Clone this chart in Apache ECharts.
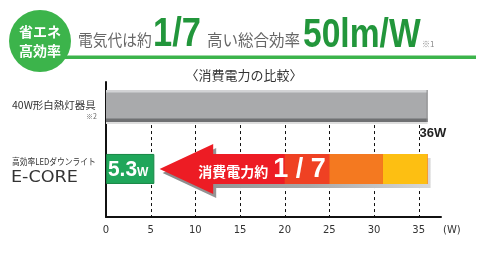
<!DOCTYPE html>
<html><head><meta charset="utf-8">
<script src="https://cdn.jsdelivr.net/npm/echarts/dist/echarts.min.js"></script>
<style>html,body{margin:0;padding:0;background:#fff}#c{width:493px;height:270px}</style>
</head><body><div id="c"></div>
<script>
// ---------- data ----------
const categories = ['40W形白熱灯器具', '高効率LEDダウンライト'];
const categoryNotes = ['※2', ''];
const brandName = 'E-CORE';
const watts = [36, 5.3];
const tickStep = 5;
const gridTicks = [5, 10, 15, 20, 25, 30, 35];
const bandEnds = [20, 25, 31, 36];          // red arrow end, red-orange, orange, yellow
const arrowTip = 6, arrowHeadBack = 12;
const arrowCaption = '消費電力約';
const ratioText = '1 / 7';
const titleParts = ['電気代は約', '1/7', '高い総合効率', '50lm/W', '※1'];
const badgeLines = ['省エネ', '高効率'];
const subtitle = '〈消費電力の比較〉';

// ---------- layout ----------
const rowLevels = [82.2, 35.6];
const JP = '"Noto Sans CJK JP", sans-serif';
const LAT = '"Liberation Sans", Arial, sans-serif';
const bandColors = ['#ED1C24', '#EF4123', '#F47920', '#FDBF12'];

const chart = echarts.init(document.getElementById('c'), null, {renderer: 'canvas'});

function renderGrid(params, api) {
  const x = Math.round(api.coord([api.value(0), 0])[0]) + 0.5;
  const yTop = api.coord([0, rowLevels[0]])[1] + 19;
  const yBot = api.coord([0, 0])[1];
  return {type: 'line', shape: {x1: x, y1: yTop, x2: x, y2: yBot},
    style: {stroke: '#111', lineWidth: 1, lineDash: [3, 3]}};
}

function renderBars(params, api) {
  const idx = params.dataIndex;
  const w = api.value(0);
  const X = v => api.coord([v, 0])[0];
  const cy = api.coord([0, rowLevels[idx]])[1];
  const x0 = X(0), x1 = X(w);
  const children = [];
  if (idx === 0) {
    const top = cy - 16, h = 32, bot = cy + 16;
    children.push(
      {type: 'rect', shape: {x: x0, y: bot, width: x1 - x0, height: 2}, style: {fill: '#dedede'}},
      {type: 'rect', shape: {x: x0, y: top, width: x1 - x0, height: h}, style: {fill: '#a9aaac'}},
      {type: 'rect', shape: {x: x0, y: top, width: x1 - x0, height: 2.5}, style: {fill: '#d2d3d5'}},
      {type: 'rect', shape: {x: x0, y: bot - 3.5, width: x1 - x0, height: 3.5}, style: {fill: '#6f7072'}},
      {type: 'rect', shape: {x: x1 - 1, y: top, width: 1, height: h}, style: {fill: '#8a8b8d'}},
      {type: 'text', style: {text: w + 'W', x: x1 - 8, y: bot + 11, fill: '#222',
        font: 'bold 13px ' + LAT, align: 'left', verticalAlign: 'middle'}}
    );
    children.push(
      {type: 'text', x: 12, y: cy - 1, scaleX: 1.05, style: {text: categories[0], x: 0, y: 0, fill: '#333',
        font: '10px ' + JP, align: 'left', verticalAlign: 'middle'}},
      {type: 'text', style: {text: categoryNotes[0], x: 97, y: cy + 10, fill: '#666',
        font: '7px ' + JP, align: 'right', verticalAlign: 'middle'}}
    );
  } else {
    const sh = 15, hh = 25;
    const xt = X(arrowTip), xh = X(arrowHeadBack), xe = X(bandEnds[bandEnds.length - 1]);
    const pts = (dx, dy) => [[xt, cy], [xh, cy - hh], [xh, cy - sh], [xe, cy - sh], [xe, cy + sh],
      [xh, cy + sh], [xh, cy + hh]].map(p => [p[0] + dx, p[1] + dy]);
    children.push(
      {type: 'polygon', shape: {points: pts(3, 4)}, style: {fill: new echarts.graphic.LinearGradient(0, 0, 1, 0,
        [{offset: 0, color: '#8a8a8a'}, {offset: 0.55, color: '#a8a8a8'}, {offset: 1, color: '#d8d8d8'}])}},
      {type: 'polygon', shape: {points: pts(0, 0)}, style: {fill: bandColors[0]}}
    );
    for (let i = 1; i < bandEnds.length; i++) {
      const a = X(bandEnds[i - 1]), b = X(bandEnds[i]);
      children.push({type: 'rect', shape: {x: a, y: cy - sh, width: b - a, height: sh * 2},
        style: {fill: bandColors[i]}});
    }
    children.push(
      {type: 'rect', shape: {x: x0 + 0.5, y: cy - sh + 0.5, width: x1 - x0, height: sh * 2 - 1},
        style: {fill: '#1FA65A', stroke: '#178645', lineWidth: 1}},
      {type: 'text', x: x0 + 2, y: cy + 1, scaleX: 0.95, style: {text: String(w), x: 0, y: 0, fill: '#fff',
        font: 'bold 22px ' + LAT, align: 'left', verticalAlign: 'middle'}},
      {type: 'text', style: {text: 'W', x: x0 + 31, y: cy + 3.5, fill: '#fff',
        font: 'bold 12px ' + LAT, align: 'left', verticalAlign: 'middle'}},
      {type: 'text', style: {text: arrowCaption, x: xh - 15, y: cy + 2.5, fill: '#fff',
        font: 'bold 14px ' + JP, align: 'left', verticalAlign: 'middle'}},
      {type: 'text', style: {text: ratioText, x: xh + 60, y: cy + 1, fill: '#fff',
        font: 'bold 27px ' + LAT, align: 'left', verticalAlign: 'middle'}}
    );
    children.push(
      {type: 'text', x: 12, y: cy - 7, scaleX: 0.86, style: {text: categories[1], x: 0, y: 0, fill: '#333',
        font: '9px ' + JP, align: 'left', verticalAlign: 'middle'}},
      {type: 'text', x: 11, y: cy + 9, scaleX: 1.1, style: {text: brandName, x: 0, y: 0, fill: '#333',
        fontSize: 16, fontFamily: '"DejaVu Sans", sans-serif', fontWeight: 'normal', align: 'left', verticalAlign: 'middle'}}
    );
  }
  return {type: 'group', children};
}

const green = '#3CB44B', darkGreen = '#22963B';

chart.setOption({
  animation: false,
  grid: {left: 106, right: 52, top: 82, bottom: 53},
  xAxis: {
    type: 'value', min: 0, max: 37.5, interval: tickStep,
    axisLine: {show: true, lineStyle: {color: '#111', width: 2}},
    axisTick: {show: false}, splitLine: {show: false},
    axisLabel: {color: '#333', fontSize: 10, fontFamily: '"DejaVu Sans", sans-serif', margin: 8, showMaxLabel: false},
    name: '(W)', nameLocation: 'end', nameGap: 2,
    nameTextStyle: {color: '#333', fontSize: 10, fontFamily: '"DejaVu Sans", sans-serif',
      align: 'left', verticalAlign: 'top', padding: [8, 0, 0, 0]}
  },
  yAxis: {
    type: 'value', min: 0, max: 100,
    axisLine: {show: true, lineStyle: {color: '#111', width: 2}},
    axisTick: {show: false}, axisLabel: {show: false}, splitLine: {show: false}
  },
  series: [
    {type: 'custom', renderItem: renderGrid, data: gridTicks.map(v => [v]), encode: {x: 0}, clip: false, silent: true, z: 1},
    {type: 'custom', renderItem: renderBars, data: watts.map((v, i) => [v, i]), encode: {x: 0}, clip: false, silent: true, z: 2}
  ],
  graphic: [
    {type: 'rect', shape: {x: 60, y: 55.5, width: 416, height: 3.5}, style: {fill: green}},
    {type: 'circle', shape: {cx: 40, cy: 41, r: 31}, style: {fill: green}},
    {type: 'text', style: {text: badgeLines[0], x: 40, y: 32, fill: '#fff', font: 'bold 14px ' + JP, align: 'center', verticalAlign: 'middle'}},
    {type: 'text', style: {text: badgeLines[1], x: 40, y: 51, fill: '#fff', font: 'bold 14px ' + JP, align: 'center', verticalAlign: 'middle'}},
    {type: 'text', x: 78, y: 40, scaleX: 0.92, style: {text: titleParts[0], x: 0, y: 0, fill: '#666', font: '16px ' + JP, align: 'left', verticalAlign: 'middle'}},
    {type: 'text', x: 153, y: 35, scaleX: 0.84, style: {text: titleParts[1], x: 0, y: 0, fill: darkGreen, font: 'bold 41px ' + LAT, align: 'left', verticalAlign: 'middle'}},
    {type: 'text', x: 207, y: 40, scaleX: 0.97, style: {text: titleParts[2], x: 0, y: 0, fill: '#666', font: '16px ' + JP, align: 'left', verticalAlign: 'middle'}},
    {type: 'text', x: 303, y: 36, scaleX: 0.84, style: {text: titleParts[3], x: 0, y: 0, fill: darkGreen, font: 'bold 40px ' + LAT, align: 'left', verticalAlign: 'middle'}},
    {type: 'text', style: {text: titleParts[4], x: 422, y: 44, fill: '#888', font: '8px ' + JP, align: 'left', verticalAlign: 'middle'}},
    {type: 'text', style: {text: subtitle, x: 244, y: 75, fill: '#333', font: '13px ' + JP, align: 'center', verticalAlign: 'middle'}}
  ]
});
</script></body></html>
